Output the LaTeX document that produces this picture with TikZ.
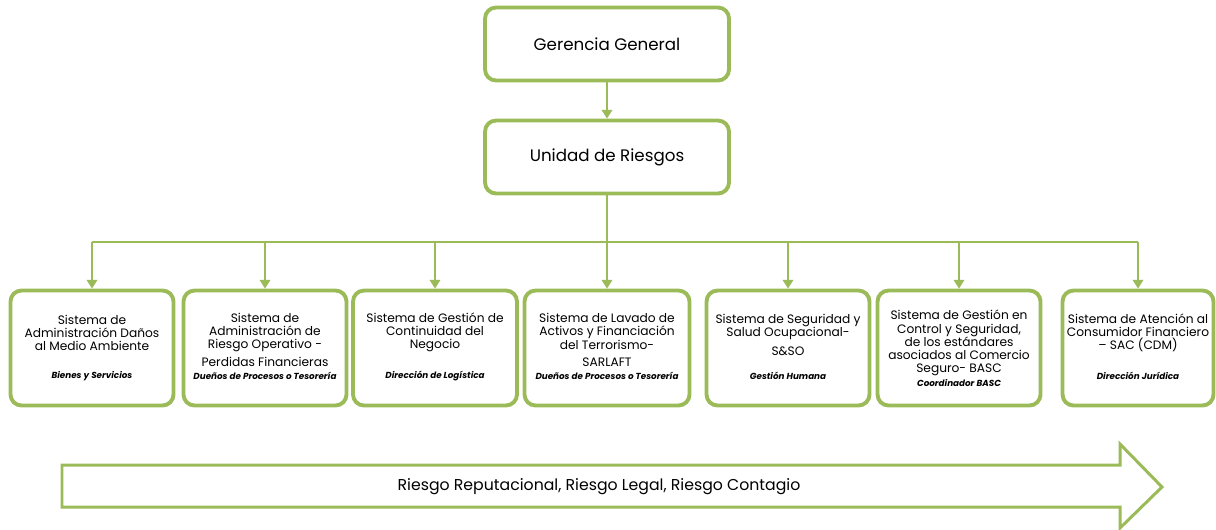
\documentclass[tikz,border=0pt]{standalone}
\usepackage{fontspec}
\setmainfont{Poppins}
\usetikzlibrary{arrows.meta}
\definecolor{riskgreen}{RGB}{155,187,89}
\tikzstyle{box}=[rectangle, rounded corners=0.22cm, draw=riskgreen, line width=2.2pt, fill=white, anchor=center]
\tikzstyle{title}=[align=center, inner sep=0pt, font=\fontsize{6.95}{7.5}\selectfont]
\tikzstyle{sub}=[align=center, inner sep=0pt, font=\fontsize{5}{6}\selectfont\bfseries\itshape]
\tikzstyle{link}=[draw=riskgreen, line width=1.1pt]
\tikzstyle{feed}=[-{Triangle[width=6pt,length=5pt]}]
% name, x, width, y of title, title, y of subtitle, subtitle
\newcommand{\sistema}[7]
{
  \node[box, minimum width=#3, minimum height=2.3cm](#1) at (#2,348){};
  \node[title](#1t) at (#2,#4){#5};
  \node[sub](#1s) at (#2,#6){#7};
}

\begin{document}
\begin{tikzpicture}[x=0.02cm, y=-0.02cm]
	\useasboundingbox (0,0) rectangle (1216,529);

	\node[box, minimum width=4.88cm, minimum height=1.46cm, font=\fontsize{9.5}{11}\selectfont](gerencia) at (607,44){Gerencia General};
	\node[box, minimum width=4.88cm, minimum height=1.46cm, font=\fontsize{9.5}{11}\selectfont](unidad) at (607,157){Unidad de Riesgos};

	\sistema{b1}{92}{3.26cm}{333}{Sistema de\\Administración Daños\\al Medio Ambiente}{376}{Bienes y Servicios}
	\sistema{b2}{265}{3.26cm}{340}{Sistema de\\Administración de\\Riesgo Operativo -\\[2.5pt]Perdidas Financieras}{376}{Dueños de Procesos o Tesorería}
	\sistema{b3}{435}{3.28cm}{332}{Sistema de Gestión de\\Continuidad del\\Negocio}{376}{Dirección de Logística}
	\sistema{b4}{607}{3.30cm}{340}{Sistema de Lavado de\\Activos y Financiación\\del Terrorismo-\\[2.5pt]SARLAFT}{376}{Dueños de Procesos o Tesorería}
	\sistema{b5}{788}{3.26cm}{335}{Sistema de Seguridad y\\Salud Ocupacional-\\[3pt]S\&SO}{376}{Gestión Humana}
	\sistema{b6}{959}{3.26cm}{343}{Sistema de Gestión en\\Control  y Seguridad,\\de los estándares\\asociados al Comercio\\Seguro- BASC}{383}{Coordinador BASC}
	\sistema{b7}{1138}{3.02cm}{333}{Sistema de Atención al\\Consumidor Financiero\\– SAC  (CDM)}{376}{Dirección Jurídica}

	\coordinate (bus) at (607,242);
	\draw[link, feed] (gerencia) -- (unidad);
	\draw[link] (unidad.south) -- (bus);
	\draw[link] (b1.north |- bus) -- (b7.north |- bus);
	\foreach \n in {b1,b2,b3,b4,b5,b6,b7}
		\draw[link, feed] (\n.north |- bus) -- (\n.north);

	% big arrow at the bottom
	\draw[draw=riskgreen, line width=1.7pt] (62,465) -- (1120,465) -- (1120,444) -- (1162,487) -- (1120,528) -- (1120,507) -- (62,507) -- cycle;
	\node[font=\fontsize{8.95}{10}\selectfont](riesgos) at (599,487){Riesgo Reputacional, Riesgo Legal, Riesgo Contagio};

\end{tikzpicture}
\end{document}
